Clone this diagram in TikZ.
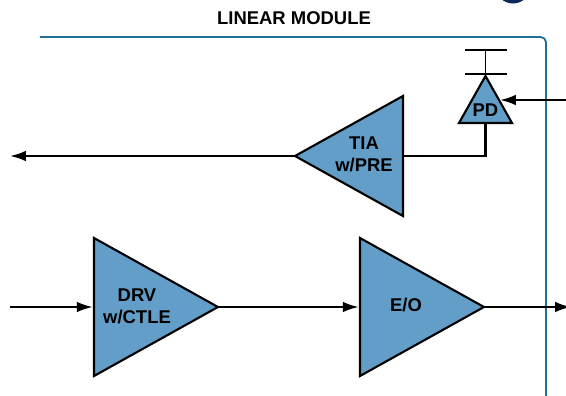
\documentclass[tikz,border=0pt]{standalone}
\usepackage{fontspec}
\setmainfont{Liberation Sans}
\usetikzlibrary{shapes.geometric,arrows.meta}
\definecolor{ampblue}{HTML}{629EC8}
\definecolor{modteal}{HTML}{1F6F96}
\definecolor{logonavy}{HTML}{0B2A55}
\tikzset{
  amp/.style={shape=isosceles triangle, isosceles triangle stretches, draw=black,
    fill=ampblue, line width=1.2pt, inner sep=0pt, outer sep=0pt},
  wire/.style={draw=black, line width=1.25pt},
  sig/.style={wire, -{Latex[length=9pt,width=6pt]}},
  title/.style={font=\bfseries\fontsize{10.5}{12.5}\selectfont, inner sep=0pt, align=center},
}
\begin{document}
\begin{tikzpicture}[x=0.02cm, y=-0.02cm]
  \useasboundingbox (0, 0) rectangle (566, 396);
  \clip (0, 0) rectangle (566, 396);

  % module outline
  \fill[logonavy] (513, -14) circle (17.5);
  \node[title] (modtitle) at (294, 18) {LINEAR MODULE};
  \draw[modteal, line width=1pt, rounded corners=3pt] (40, 37) -- (546, 37) -- (546, 400);

  % amplifiers
  \node[amp, minimum width=138*0.02cm, minimum height=124*0.02cm, anchor=apex] (drv) at (218, 307) {};
  \node[amp, minimum width=138*0.02cm, minimum height=124*0.02cm, anchor=apex] (eo) at (484, 307) {};
  \node[amp, shape border rotate=180, minimum width=120*0.02cm, minimum height=108*0.02cm, anchor=apex] (tia) at (295, 156) {};
  \node[amp, shape border rotate=90, minimum width=53*0.02cm, minimum height=47*0.02cm, anchor=apex] (pd) at (485.5, 76) {};

  \node[title] (drvtext) at (137, 306) {DRV\\w/CTLE};
  \node[title] (eotext) at (406, 305) {E/O};
  \node[title] (tiatext) at (364, 154) {TIA\\w/PRE};
  \node[title] (pdtext) at (485.5, 110) {PD};

  % free ends
  \coordinate (rxout) at (10, 156);
  \coordinate (txin) at (10, 307);
  \coordinate (txout) at (571, 307);
  \coordinate (rxin) at (570, 100);
  \coordinate (pdtop) at (485.5, 50);
  \coordinate (rxtip) at (500, 100);

  % signal path
  \draw[sig] (tia.apex) -- (rxout);
  \draw[wire] (tia.lower side) -| (pd.lower side);
  \draw[sig, shorten >=0.7pt] (txin) -- (drv.lower side);
  \draw[sig, shorten >=0.7pt] (drv.apex) -- (eo.lower side);
  \draw[sig] (eo.apex) -- (txout);
  \draw[sig] (rxin) -- (rxtip);

  % bias on the photodiode
  \draw[wire, line width=1pt] (pd.apex) -- (pdtop);
  \draw[wire, line width=1pt] (465, 50) -- (507.5, 50);
  \draw[wire, line width=1pt] (465, 74) -- (507.5, 74);
\end{tikzpicture}
\end{document}
